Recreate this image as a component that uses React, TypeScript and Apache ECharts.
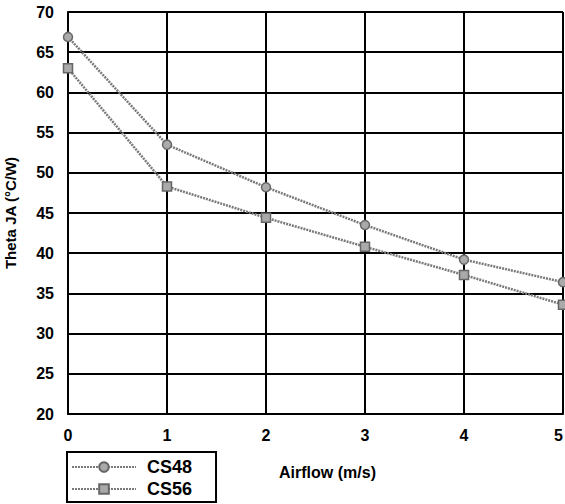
import React, { useEffect, useRef } from "react";
import * as echarts from "echarts";

const airflow = [0, 1, 2, 3, 4, 5];
const cs48 = [66.9, 53.5, 48.2, 43.5, 39.2, 36.4];
const cs56 = [63.0, 48.3, 44.4, 40.8, 37.3, 33.6];
const seriesNames = ["CS48", "CS56"];

export default function App() {
  const ref = useRef<HTMLDivElement>(null);
  useEffect(() => {
    const chart = echarts.init(ref.current!, null, { renderer: "svg" });
    const font = "'Liberation Sans', Arial, sans-serif";
    const lineStyle = { color: "#7a7a7a", width: 2.5, type: [2, 1] as any };
    chart.setOption({
      animation: false,
      backgroundColor: "#fff",
      textStyle: { fontFamily: font },
      grid: { left: 68, right: 2, top: 12, bottom: 90, outerBoundsMode: "none" },
      xAxis: {
        type: "value",
        min: 0,
        max: 5,
        interval: 1,
        name: "Airflow (m/s)",
        nameLocation: "middle",
        nameGap: 50,
        nameTextStyle: { fontFamily: font, fontWeight: "bold", fontSize: 16, color: "#000", padding: [0, 0, 0, 24] },
        axisLine: { show: true, lineStyle: { color: "#000", width: 2 } },
        axisTick: { show: false },
        axisLabel: { fontFamily: font, fontWeight: "bold", fontSize: 16, color: "#000", margin: 13, alignMaxLabel: "right" },
        splitLine: { show: true, lineStyle: { color: "#000", width: 2 } },
      },
      yAxis: {
        type: "value",
        min: 20,
        max: 70,
        interval: 5,
        name: "Theta JA (°C/W)",
        nameLocation: "middle",
        nameGap: 50,
        nameRotate: 90,
        nameTextStyle: { fontFamily: font, fontWeight: "bold", fontSize: 15, color: "#000" },
        axisLine: { show: true, lineStyle: { color: "#000", width: 2 } },
        axisTick: { show: false },
        axisLabel: { fontFamily: font, fontWeight: "bold", fontSize: 16, color: "#000", margin: 14 },
        splitLine: { show: true, lineStyle: { color: "#000", width: 2 } },
      },
      legend: {
        orient: "vertical",
        left: 67,
        top: 452,
        padding: [6, 24, 4, 4],
        itemGap: 4,
        itemWidth: 64,
        itemHeight: 12,
        borderColor: "#000",
        borderWidth: 2,
        borderRadius: 0,
        data: seriesNames,
        textStyle: { fontFamily: font, fontWeight: "bold", fontSize: 18, color: "#000", padding: [0, 0, 0, 6] },
      },
      series: [
        {
          name: seriesNames[0],
          type: "line",
          data: airflow.map((x, i) => [x, cs48[i]]),
          symbol: "circle",
          symbolSize: 9,
          itemStyle: { color: "#aaa", borderColor: "#666", borderWidth: 1.5 },
          lineStyle,
        },
        {
          name: seriesNames[1],
          type: "line",
          data: airflow.map((x, i) => [x, cs56[i]]),
          symbol: "rect",
          symbolSize: 9,
          itemStyle: { color: "#aaa", borderColor: "#666", borderWidth: 1.5 },
          lineStyle,
        },
      ],
    });
    return () => chart.dispose();
  }, []);
  return <div ref={ref} style={{ width: 565, height: 504, position: "absolute", left: 0, top: 0 }} />;
}
